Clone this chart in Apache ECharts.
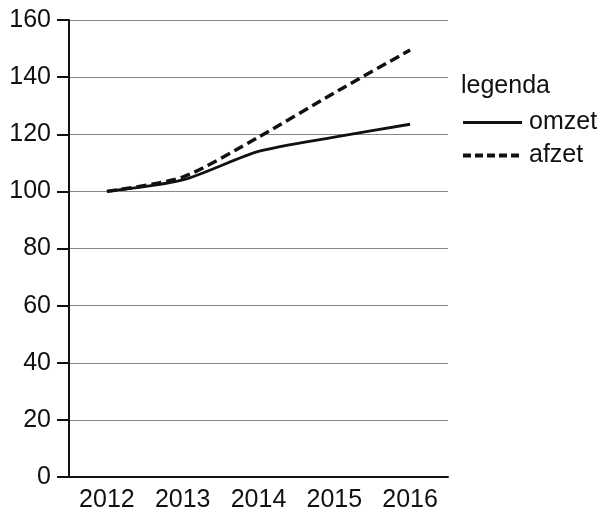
<!DOCTYPE html>
<html>
<head>
<meta charset="utf-8">
<script src="https://cdn.jsdelivr.net/npm/echarts@6/dist/echarts.min.js"></script>
<style>
  html, body { margin: 0; padding: 0; background: #fff; }
  #chart { width: 604px; height: 513px; }
</style>
</head>
<body>
<div id="chart"></div>
<script>
const years = ['2012', '2013', '2014', '2015', '2016'];
const omzet = [100, 104, 114, 119, 123.5];
const afzet = [100, 105, 119, 134.5, 149.5];

const font = 'Liberation Sans, Arial, sans-serif';

const mychart = echarts.init(document.getElementById('chart'));
const option = {
    animation: false,
    title: {
        text: 'legenda',
        left: 461,
        top: 74,
        padding: 0,
        textStyle: { fontFamily: font, fontSize: 25, fontWeight: 'normal', color: '#111' }
    },
    legend: {
        orient: 'vertical',
        left: 461,
        top: 110,
        padding: 0,
        itemWidth: 59,
        itemHeight: 14,
        itemGap: 8,
        itemStyle: { opacity: 0 },
        textStyle: { fontFamily: font, fontSize: 25, color: '#111', padding: [0, 0, 0, 2] },
        data: [
            { name: 'omzet', lineStyle: { color: '#111', width: 3, type: 'solid' } },
            { name: 'afzet', lineStyle: { color: '#111', width: 4, type: [8, 4] } }
        ]
    },
    grid: { left: 69, right: 156, top: 20, bottom: 35 },
    xAxis: {
        type: 'category',
        data: years,
        axisLine: { lineStyle: { color: '#111', width: 2 } },
        axisTick: { length: 10, lineStyle: { color: '#111', width: 2 } },
        axisLabel: { fontFamily: font, fontSize: 25, color: '#111', margin: 11 }
    },
    yAxis: {
        type: 'value',
        min: 0,
        max: 160,
        interval: 20,
        axisLine: { show: true, lineStyle: { color: '#111', width: 2 } },
        axisTick: { show: true, length: 12, lineStyle: { color: '#111', width: 2 } },
        axisLabel: { fontFamily: font, fontSize: 25, color: '#111', margin: 18 },
        splitLine: { lineStyle: { color: '#888', width: 1 } }
    },
    series: [
        {
            name: 'omzet',
            type: 'line',
            data: omzet,
            symbol: 'none',
            smooth: 0.25,
            color: '#111',
            lineStyle: { color: '#111', width: 2.8, type: 'solid' }
        },
        {
            name: 'afzet',
            type: 'line',
            data: afzet,
            symbol: 'none',
            smooth: 0.25,
            color: '#111',
            lineStyle: { color: '#111', width: 3.5, type: [10, 5] }
        }
    ]
};
mychart.setOption(option);
</script>
</body>
</html>
